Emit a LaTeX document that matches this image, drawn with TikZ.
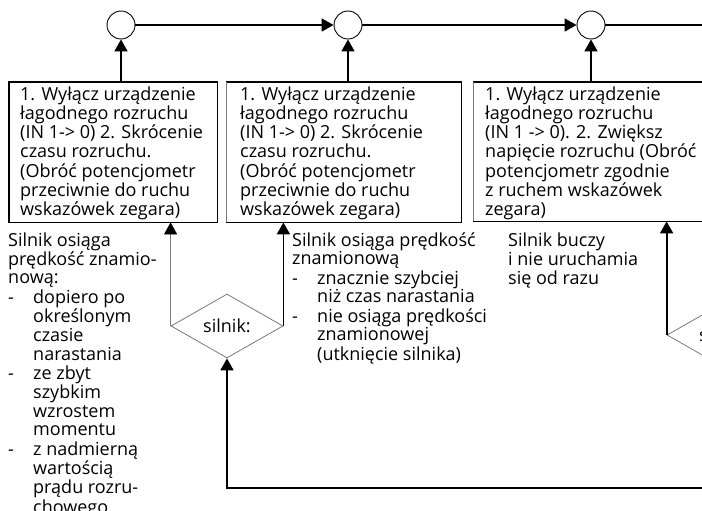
\documentclass[tikz,border=0pt]{standalone}
\usepackage{fontspec}
\setmainfont{Open Sans}
\usetikzlibrary{arrows.meta,shapes.geometric}
\definecolor{thinline}{RGB}{120,120,120}
\newcommand\dashitem{\makebox[25pt][l]{-}}
\newcommand\hangin{\hspace*{25pt}}
% multi-line text whose baseline is that of its first line
\newcommand\linesblock[1]{\begin{tabular}[t]{@{}l@{}}#1\end{tabular}}
\begin{document}
\begin{tikzpicture}[x=1pt,y=-1pt,
  txt/.style={inner sep=0pt,anchor=base west,
    font=\fontsize{18}{18.6}\selectfont},
  stepbox/.style={draw=none,rectangle,inner sep=0pt,anchor=north west},
  thickline/.style={line width=1.8pt,black},
  thinpath/.style={line width=0.8pt,thinline},
  junction/.style={circle,draw,line width=0.9pt,minimum size=28pt,inner sep=0pt},
  decision/.style={diamond,draw=thinline,line width=0.8pt,minimum width=112pt,
    minimum height=64pt,aspect=1.75,inner sep=0pt,
    font=\fontsize{18}{18.6}\selectfont},
  tip/.style={-{Triangle[length=12pt,width=13pt,color=black]}}
]
\useasboundingbox (0,0) rectangle (702,511);
\clip (0,0) rectangle (702,511);

% junction circles on the top line
\node[junction] (c1) at (121,25) {};
\node[junction] (c2) at (348,25) {};
\node[junction] (c3) at (591,25) {};
\coordinate (topend) at (702,25);

% action boxes
\node[stepbox,minimum width=208pt,minimum height=140pt] (b1) at (9,82) {};
\node[stepbox,minimum width=235pt,minimum height=140pt] (b2) at (226,82) {};
\node[stepbox,minimum width=260pt,minimum height=139pt] (b3) at (473,82) {};

\draw[thickline] (b1.north west) rectangle (b1.south east);
\draw[thickline] (b2.south west) -- (b2.south east) -- (b2.north east) -- (b2.north west);
\draw[thinpath] (b2.north west) -- (b2.south west);
\draw[thickline] (b3.south east) -- (b3.south west);
\draw[thickline] (b3.north west) -- (b3.north east);
\draw[thinpath] (b3.north west) -- (b3.south west);

\node[txt] (t1) at (20,100) {\linesblock{1. Wyłącz urządzenie\\łagodnego rozruchu\\(IN 1-> 0) 2. Skrócenie\\czasu rozruchu.\\(Obróć potencjometr\\przeciwnie do ruchu\\wskazówek zegara)}};
\node[txt] (t2) at (240,100) {\linesblock{1. Wyłącz urządzenie\\łagodnego rozruchu\\(IN 1-> 0) 2. Skrócenie\\czasu rozruchu.\\(Obróć potencjometr\\przeciwnie do ruchu\\wskazówek zegara)}};
\node[txt] (t3) at (485,100) {\linesblock{1. Wyłącz urządzenie\\łagodnego rozruchu\\(IN 1 -> 0). 2. Zwiększ\\napięcie rozruchu (Obróć\\potencjometr zgodnie\\z ruchem wskazówek\\zegara)}};

% decisions
\node[decision] (d1) at (227,326) {silnik:};
\node[decision] (d2) at (723,335) {silnik:};
\coordinate (botend) at (702,488);

% outcome descriptions
\node[txt] (o1) at (8,246) {\linesblock{Silnik osiąga\\prędkość znamio-\\nową:\\\dashitem dopiero po\\\hangin określonym\\\hangin czasie\\\hangin narastania\\\dashitem ze zbyt\\\hangin szybkim\\\hangin wzrostem\\\hangin momentu\\\dashitem z nadmierną\\\hangin wartością\\\hangin prądu rozru-\\\hangin chowego}};
\node[txt] (o2) at (292,246) {\linesblock{Silnik osiąga prędkość\\znamionową\\\dashitem znacznie szybciej\\\hangin niż czas narastania\\\dashitem nie osiąga prędkości\\\hangin znamionowej\\\hangin (utknięcie silnika)}};
\node[txt] (o3) at (508,246) {\linesblock{Silnik buczy\\i nie uruchamia\\się od razu}};

% top line
\draw[thickline,tip] (c1) -- (c2);
\draw[thickline,tip] (c2) -- (c3);
\draw[thickline] (c3) -- (topend);

% boxes up to junctions
\draw[thickline,tip] (c1 |- b1.north) -- (c1.south);
\draw[thickline,tip] (c2 |- b2.north) -- (c2.south);
\draw[thickline,tip] (c3 |- b3.north) -- (c3.south);

% decisions up to boxes
\draw[thinpath,tip] (d1.west) -- (d1.west |- b1.south);
\draw[thickline,tip] (d1.east) -- (d1.east |- b2.south);
\draw[thickline,tip] (d2.west) -- (d2.west |- b3.south);

% loop back into the first decision
\draw[thickline,tip] (botend) -- (botend -| d1.south) -- (d1.south);
\end{tikzpicture}
\end{document}
